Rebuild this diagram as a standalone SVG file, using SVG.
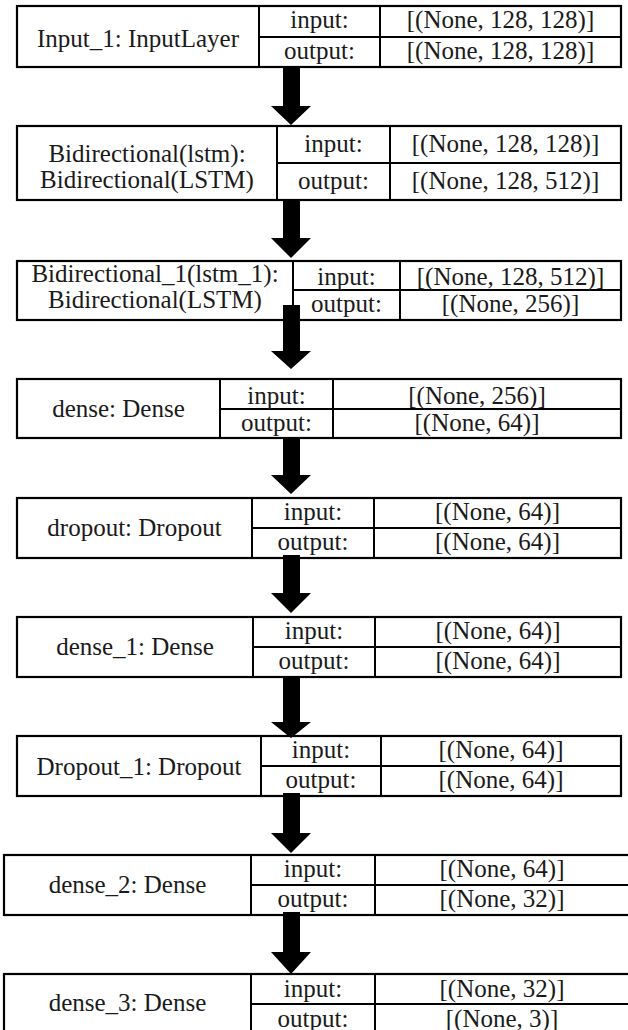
<svg xmlns="http://www.w3.org/2000/svg" width="628" height="1030" viewBox="0 0 628 1030">
<style>
.box{fill:#fff;stroke:#000;stroke-width:2.2}
.ln{stroke:#000;stroke-width:2;fill:none}
text{font-family:"Liberation Serif","Times New Roman",Times,serif;font-size:25px;fill:#1a1a1a;text-anchor:middle}
.arr{fill:#000}
</style>
<rect width="628" height="1030" fill="#fff"/>
<g id="node-input_1">
<rect class="box" x="17" y="6" width="604" height="61"/>
<path class="ln" d="M259 6V67M380 6V67M259 37H621"/>
<text x="138" y="47">Input_1: InputLayer</text>
<text x="319.5" y="28">input:</text>
<text x="319.5" y="59">output:</text>
<text x="500.5" y="28">[(None, 128, 128)]</text>
<text x="500.5" y="59">[(None, 128, 128)]</text>
</g>
<g id="node-bidirectional">
<rect class="box" x="17" y="126" width="604" height="74"/>
<path class="ln" d="M277 126V200M390 126V200M277 163H621"/>
<text x="147" y="162">Bidirectional(lstm):</text>
<text x="147" y="188">Bidirectional(LSTM)</text>
<text x="333.5" y="152">input:</text>
<text x="333.5" y="189">output:</text>
<text x="505.5" y="152">[(None, 128, 128)]</text>
<text x="505.5" y="189">[(None, 128, 512)]</text>
</g>
<g id="node-bidirectional_1">
<rect class="box" x="17" y="261" width="604" height="59"/>
<path class="ln" d="M293 261V320M400 261V320M293 290H621"/>
<text x="155" y="282">Bidirectional_1(lstm_1):</text>
<text x="155" y="308">Bidirectional(LSTM)</text>
<text x="346.5" y="285">input:</text>
<text x="346.5" y="312">output:</text>
<text x="510.5" y="285">[(None, 128, 512)]</text>
<text x="510.5" y="312">[(None, 256)]</text>
</g>
<g id="node-dense">
<rect class="box" x="17" y="379" width="604" height="59"/>
<path class="ln" d="M220 379V438M333 379V438M220 409H621"/>
<text x="118.5" y="417">dense: Dense</text>
<text x="276.5" y="404">input:</text>
<text x="276.5" y="431">output:</text>
<text x="477" y="404">[(None, 256)]</text>
<text x="477" y="431">[(None, 64)]</text>
</g>
<g id="node-dropout">
<rect class="box" x="17" y="498" width="604" height="60"/>
<path class="ln" d="M252 498V558M374 498V558M252 528H621"/>
<text x="134.5" y="536">dropout: Dropout</text>
<text x="313" y="520">input:</text>
<text x="313" y="550">output:</text>
<text x="497.5" y="520">[(None, 64)]</text>
<text x="497.5" y="550">[(None, 64)]</text>
</g>
<g id="node-dense_1">
<rect class="box" x="17" y="617" width="604" height="60"/>
<path class="ln" d="M253 617V677M375 617V677M253 647H621"/>
<text x="135" y="655">dense_1: Dense</text>
<text x="314" y="639">input:</text>
<text x="314" y="669">output:</text>
<text x="498" y="639">[(None, 64)]</text>
<text x="498" y="669">[(None, 64)]</text>
</g>
<g id="node-dropout_1">
<rect class="box" x="17" y="736" width="604" height="60"/>
<path class="ln" d="M261 736V796M381 736V796M261 766H621"/>
<text x="139" y="775">Dropout_1: Dropout</text>
<text x="321" y="758">input:</text>
<text x="321" y="788">output:</text>
<text x="501" y="758">[(None, 64)]</text>
<text x="501" y="788">[(None, 64)]</text>
</g>
<g id="node-dense_2">
<rect class="box" x="4" y="855" width="630" height="60"/>
<path class="ln" d="M251 855V915M375 855V915M251 885H634"/>
<text x="127.5" y="893">dense_2: Dense</text>
<text x="313" y="877">input:</text>
<text x="313" y="907">output:</text>
<text x="502" y="877">[(None, 64)]</text>
<text x="502" y="907">[(None, 32)]</text>
</g>
<g id="node-dense_3">
<rect class="box" x="4" y="974" width="630" height="62"/>
<path class="ln" d="M251 974V1036M375 974V1036M251 1004H634"/>
<text x="127.5" y="1011">dense_3: Dense</text>
<text x="313" y="997">input:</text>
<text x="313" y="1027">output:</text>
<text x="502" y="997">[(None, 32)]</text>
<text x="502" y="1027">[(None, 3)]</text>
</g>
<g id="connectors">
<polygon class="arr" points="283,67 300,67 300,106 311,106 291,125 271,106 283,106"/>
<polygon class="arr" points="283,200 300,200 300,238 311,238 291,258 271,238 283,238"/>
<polygon class="arr" points="283,305 300,305 300,351 311,351 291,369 271,351 283,351"/>
<polygon class="arr" points="283,438 300,438 300,475 311,475 291,494 271,475 283,475"/>
<polygon class="arr" points="283,555 300,555 300,593 311,593 291,613 271,593 283,593"/>
<polygon class="arr" points="283,677 300,677 300,722 311,722 291,738 271,722 283,722"/>
<polygon class="arr" points="283,793 300,793 300,833 311,833 291,853 271,833 283,833"/>
<polygon class="arr" points="283,912 300,912 300,952 311,952 291,974 271,952 283,952"/>
</g>
</svg>
